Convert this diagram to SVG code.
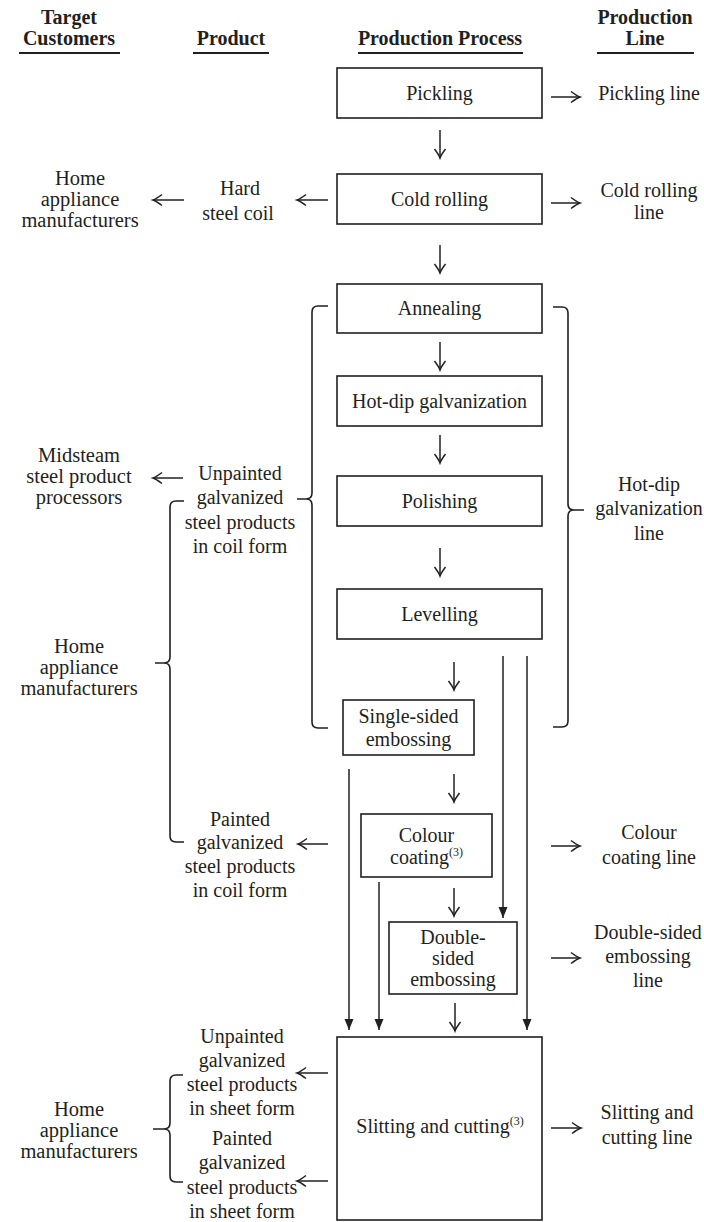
<svg xmlns="http://www.w3.org/2000/svg" width="704" height="1222" viewBox="0 0 704 1222">
  <style>
    text { font-family: "Liberation Serif", "Times New Roman", serif; fill: #231f20; text-anchor: middle; }
    .hd { font-weight: bold; font-size: 20px; }
    .t { font-size: 20px; }
    .c { font-size: 20.5px; }
    .sup { font-size: 12px; }
    .box { fill: #fff; stroke: #231f20; stroke-width: 1.6; }
    .ul { stroke: #231f20; stroke-width: 2; }
    .ln { fill: none; stroke: #231f20; stroke-width: 1.5; }
    .open { marker-end: url(#open); }
    .solid { marker-end: url(#solid); }
    .brace { fill: none; stroke: #231f20; stroke-width: 1.6; stroke-linejoin: round; }
  </style>
  <defs>
    <marker id="open" markerUnits="userSpaceOnUse" viewBox="-11 -7 13 14" markerWidth="13" markerHeight="14" refX="0" refY="0" orient="auto" overflow="visible">
      <path d="M-9,-5.5 Q-3,-1 0,0 Q-3,1 -9,5.5" fill="none" stroke="#231f20" stroke-width="1.5"/>
    </marker>
    <marker id="solid" markerUnits="userSpaceOnUse" viewBox="-12 -6 13 12" markerWidth="13" markerHeight="12" refX="0" refY="0" orient="auto" overflow="visible">
      <path d="M-11,-4.5 L0,0 L-11,4.5 Z" fill="#231f20"/>
    </marker>
  </defs>

  <!-- column headers -->
  <g id="headers">
    <text class="hd" x="69" y="24">Target</text>
    <text class="hd" x="69" y="45">Customers</text>
    <line class="ul" x1="19" y1="53" x2="120" y2="53"/>
    <text class="hd" x="231" y="45">Product</text>
    <line class="ul" x1="193" y1="53" x2="269" y2="53"/>
    <text class="hd" x="440" y="45">Production Process</text>
    <line class="ul" x1="358" y1="53" x2="523" y2="53"/>
    <text class="hd" x="645" y="24">Production</text>
    <text class="hd" x="645" y="45">Line</text>
    <line class="ul" x1="597" y1="53" x2="694" y2="53"/>
  </g>

  <!-- production process steps -->
  <g id="pickling">
    <rect class="box" x="337" y="68" width="205" height="50"/>
    <text class="t" x="439.5" y="100">Pickling</text>
  </g>
  <g id="cold-rolling">
    <rect class="box" x="337" y="174" width="205" height="50"/>
    <text class="t" x="439.5" y="206">Cold rolling</text>
  </g>
  <g id="annealing">
    <rect class="box" x="337" y="284" width="205" height="49"/>
    <text class="t" x="439.5" y="315">Annealing</text>
  </g>
  <g id="hot-dip">
    <rect class="box" x="337" y="376" width="205" height="50"/>
    <text class="t" x="439.5" y="408">Hot-dip galvanization</text>
  </g>
  <g id="polishing">
    <rect class="box" x="337" y="476" width="205" height="50"/>
    <text class="t" x="439.5" y="508">Polishing</text>
  </g>
  <g id="levelling">
    <rect class="box" x="337" y="589" width="205" height="50"/>
    <text class="t" x="439.5" y="621">Levelling</text>
  </g>
  <g id="single-sided">
    <rect class="box" x="343" y="700" width="131" height="55"/>
    <text class="t" x="408.5" y="723">Single-sided</text>
    <text class="t" x="408.5" y="746">embossing</text>
  </g>
  <g id="colour-coating">
    <rect class="box" x="361" y="814" width="131" height="63"/>
    <text class="t" x="426.5" y="842">Colour</text>
    <text class="t" x="426.5" y="864">coating<tspan class="sup" dy="-8">(3)</tspan></text>
  </g>
  <g id="double-sided">
    <rect class="box" x="389" y="922" width="128" height="72"/>
    <text class="t" x="453" y="944">Double-</text>
    <text class="t" x="453" y="965">sided</text>
    <text class="t" x="453" y="986">embossing</text>
  </g>
  <g id="slitting">
    <rect class="box" x="337" y="1037" width="205" height="183"/>
    <text class="t" x="440" y="1133">Slitting and cutting<tspan class="sup" dy="-8">(3)</tspan></text>
  </g>

  <!-- production lines -->
  <g id="line-pickling"><text class="t" x="649" y="100">Pickling line</text></g>
  <g id="line-cold-rolling">
    <text class="t" x="649" y="197">Cold rolling</text>
    <text class="t" x="649" y="219">line</text>
  </g>
  <g id="line-hot-dip">
    <text class="t" x="649" y="491">Hot-dip</text>
    <text class="t" x="649" y="515">galvanization</text>
    <text class="t" x="649" y="540">line</text>
  </g>
  <g id="line-colour">
    <text class="t" x="649" y="839">Colour</text>
    <text class="t" x="649" y="864">coating line</text>
  </g>
  <g id="line-double">
    <text class="t" x="648" y="939">Double-sided</text>
    <text class="t" x="648" y="963">embossing</text>
    <text class="t" x="648" y="987">line</text>
  </g>
  <g id="line-slitting">
    <text class="t" x="647" y="1119">Slitting and</text>
    <text class="t" x="647" y="1144">cutting line</text>
  </g>

  <!-- products -->
  <g id="hard-coil">
    <text class="t" x="240" y="195">Hard</text>
    <text class="t" x="238" y="220">steel coil</text>
  </g>
  <g id="unpainted-coil">
    <text class="t" x="240" y="480">Unpainted</text>
    <text class="t" x="240" y="504">galvanized</text>
    <text class="t" x="240" y="529">steel products</text>
    <text class="t" x="240" y="553">in coil form</text>
  </g>
  <g id="painted-coil">
    <text class="t" x="240" y="826">Painted</text>
    <text class="t" x="240" y="849">galvanized</text>
    <text class="t" x="240" y="873">steel products</text>
    <text class="t" x="240" y="897">in coil form</text>
  </g>
  <g id="unpainted-sheet">
    <text class="t" x="242" y="1043">Unpainted</text>
    <text class="t" x="242" y="1067">galvanized</text>
    <text class="t" x="242" y="1091">steel products</text>
    <text class="t" x="242" y="1115">in sheet form</text>
  </g>
  <g id="painted-sheet">
    <text class="t" x="242" y="1145">Painted</text>
    <text class="t" x="242" y="1169">galvanized</text>
    <text class="t" x="242" y="1194">steel products</text>
    <text class="t" x="242" y="1218">in sheet form</text>
  </g>

  <!-- target customers -->
  <g id="cust-home-1">
    <text class="c" x="80" y="185">Home</text>
    <text class="c" x="80" y="206">appliance</text>
    <text class="c" x="80" y="227">manufacturers</text>
  </g>
  <g id="cust-midstream">
    <text class="c" x="79" y="462">Midsteam</text>
    <text class="c" x="79" y="483">steel product</text>
    <text class="c" x="79" y="504">processors</text>
  </g>
  <g id="cust-home-2">
    <text class="c" x="79" y="653">Home</text>
    <text class="c" x="79" y="674">appliance</text>
    <text class="c" x="79" y="695">manufacturers</text>
  </g>
  <g id="cust-home-3">
    <text class="c" x="79" y="1116">Home</text>
    <text class="c" x="79" y="1137">appliance</text>
    <text class="c" x="79" y="1158">manufacturers</text>
  </g>

  <!-- connectors -->
  <g id="connectors">
    <!-- main flow arrows -->
    <path class="ln open" d="M440,130 V158"/>
    <path class="ln open" d="M440,245 V273"/>
    <path class="ln open" d="M440,342 V370"/>
    <path class="ln open" d="M440,435 V463"/>
    <path class="ln open" d="M440,548 V576"/>
    <path class="ln open" d="M454,662 V690"/>
    <path class="ln open" d="M454,774 V802"/>
    <path class="ln open" d="M454,888 V916"/>
    <path class="ln open" d="M455,1003 V1031"/>
    <!-- bypass routes into slitting and double-sided embossing -->
    <path class="ln solid" d="M349,769 V1030"/>
    <path class="ln solid" d="M379,882 V1030"/>
    <path class="ln solid" d="M503,656 V918"/>
    <path class="ln solid" d="M527,656 V1030"/>
    <!-- to production lines -->
    <path class="ln open" d="M551,97 H580"/>
    <path class="ln open" d="M551,203 H580"/>
    <path class="ln open" d="M551,846 H580"/>
    <path class="ln open" d="M551,958 H580"/>
    <path class="ln open" d="M551,1128 H581"/>
    <!-- to products and customers -->
    <path class="ln open" d="M328,200 H297"/>
    <path class="ln open" d="M184,200 H153"/>
    <path class="ln open" d="M183,478 H153"/>
    <path class="ln open" d="M328,844 H298"/>
    <path class="ln open" d="M328,1073 H297"/>
    <path class="ln open" d="M328,1181 H297"/>
    <!-- braces -->
    <path class="brace" d="M328,306 H318 Q312,306 312,312 V493 Q312,499 306,499 H297 M306,499 Q312,499 312,505 V722 Q312,728 318,728 H328"/>
    <path class="brace" d="M553,307 H562 Q568,307 568,313 V504 Q568,510 574,510 H584 M574,510 Q568,510 568,516 V721 Q568,727 562,727 H553"/>
    <path class="brace" d="M184,501 H176 Q170,501 170,507 V657 Q170,663 164,663 H155 M164,663 Q170,663 170,669 V836 Q170,842 176,842 H184"/>
    <path class="brace" d="M183,1075 H176 Q170,1075 170,1081 V1123 Q170,1129 164,1129 H153 M164,1129 Q170,1129 170,1135 V1176 Q170,1182 176,1182 H183"/>
  </g>
</svg>
